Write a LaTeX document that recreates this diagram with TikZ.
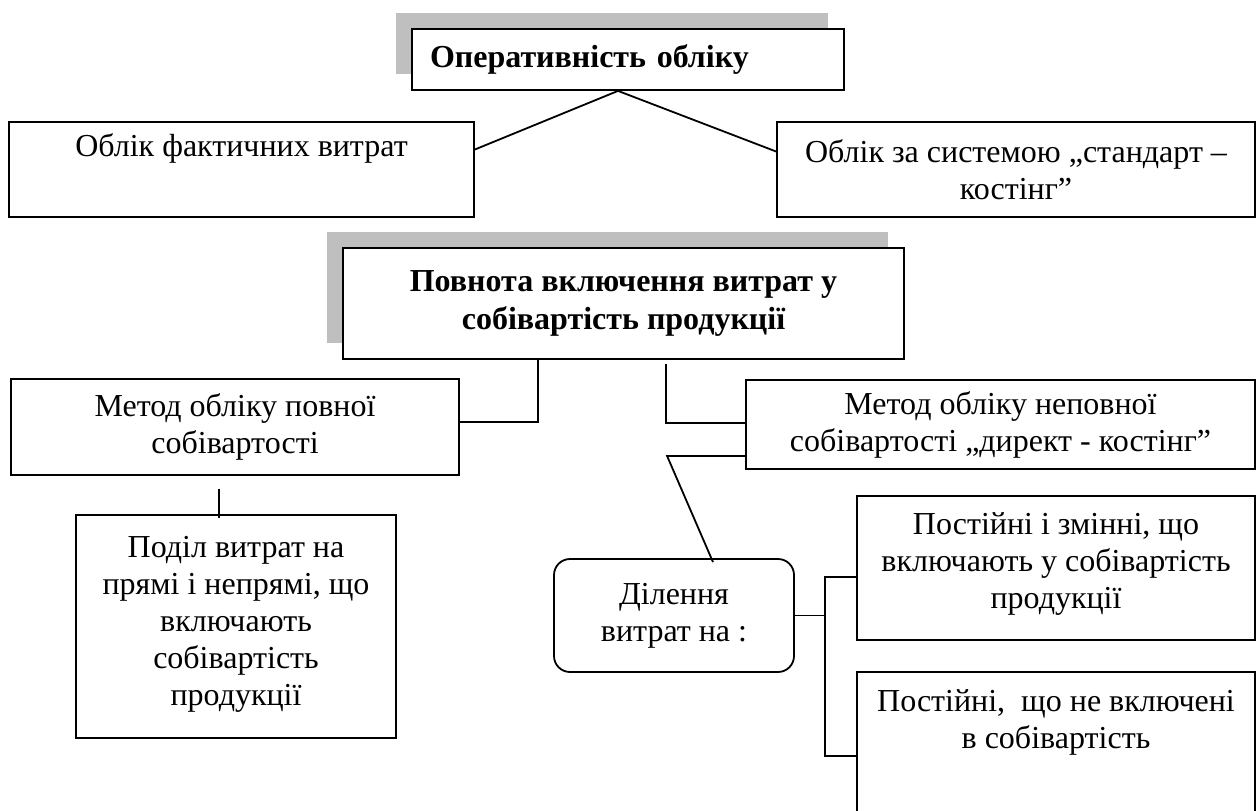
\documentclass[tikz,border=0pt]{standalone}
\usepackage{fontspec}
\setmainfont{Liberation Serif}
\usetikzlibrary{shadows}

\begin{document}
\begin{tikzpicture}[x=1pt, y=-1pt, line width=1.8pt,
  every node/.style={font=\fontsize{32pt}{37pt}\selectfont},
  box/.style={draw, fill=white, align=center, inner sep=0pt},
  head/.style={box, font=\fontsize{32pt}{38pt}\selectfont\bfseries,
    drop shadow={shadow xshift=-16pt, shadow yshift=16pt, fill=black!25, opacity=1}}]
\useasboundingbox (0,0) rectangle (1258,811);

% accounting speed
\node[head, minimum width=432pt, minimum height=61pt, align=left, text width=396pt] (oper) at (628,59.5) {Оперативність обліку};
\node[box, minimum width=465pt, minimum height=95pt] (fakt) at (241.5,169.5) {Облік фактичних витрат\\\strut};
\node[box, minimum width=478pt, minimum height=95pt] (stand) at (1016,169.5) {Облік за системою „стандарт –\\костінг”};
\draw ([xshift=-10pt]oper.south) -- ([yshift=20pt]fakt.east);
\draw ([xshift=-10pt]oper.south) -- ([yshift=18pt]stand.west);

% completeness of costs
\node[head, minimum width=561pt, minimum height=111pt] (povnota) at (623.5,303.5) {Повнота включення витрат у\\собівартість продукції};
\node[box, minimum width=448pt, minimum height=96pt] (povna) at (235,427) {Метод обліку повної\\собівартості};
\node[box, minimum width=509pt, minimum height=89pt] (nepovna) at (1000.5,424.5) {Метод обліку неповної\\собівартості „директ - костінг”};
\draw ([xshift=-85.5pt]povnota.south) |- ([yshift=5pt]povna.east);
\draw ([xshift=42.5pt,yshift=-4pt]povnota.south) |- ([yshift=1.5pt]nepovna.west);

\node[box, minimum width=320pt, minimum height=223pt] (podil) at (236,626.5) {Поділ витрат на\\прямі і непрямі, що\\включають\\собівартість\\продукції\\[-25pt]\mbox{}};
\draw ([xshift=-16pt,yshift=-13pt]povna.south) -- ([xshift=-17pt,yshift=-4pt]podil.north);

\node[box, rounded corners=16pt, minimum width=240pt, minimum height=113pt] (dil) at (674,615.5) {Ділення\\витрат на :};
\draw ([yshift=-31.5pt]nepovna.west) -- ++(-78,0) -- ([xshift=39pt,yshift=-4pt]dil.north);

\node[box, minimum width=398pt, minimum height=144pt] (pz) at (1056,568) {Постійні і змінні, що\\включають у собівартість\\продукції\\[-23pt]\mbox{}};
\node[box, minimum width=398pt, minimum height=143pt] (pnv) at (1056,743.5) {Постійні,\ \ що не включені\\в собівартість\\\strut};
\coordinate (brk) at (826,615.5);
\draw (dil.east) -- (brk);
\draw ([yshift=-9pt]pz.west) -| ([xshift=-31pt,yshift=-12.5pt]pnv.west) -- ([yshift=-12.5pt]pnv.west);
\end{tikzpicture}
\end{document}
